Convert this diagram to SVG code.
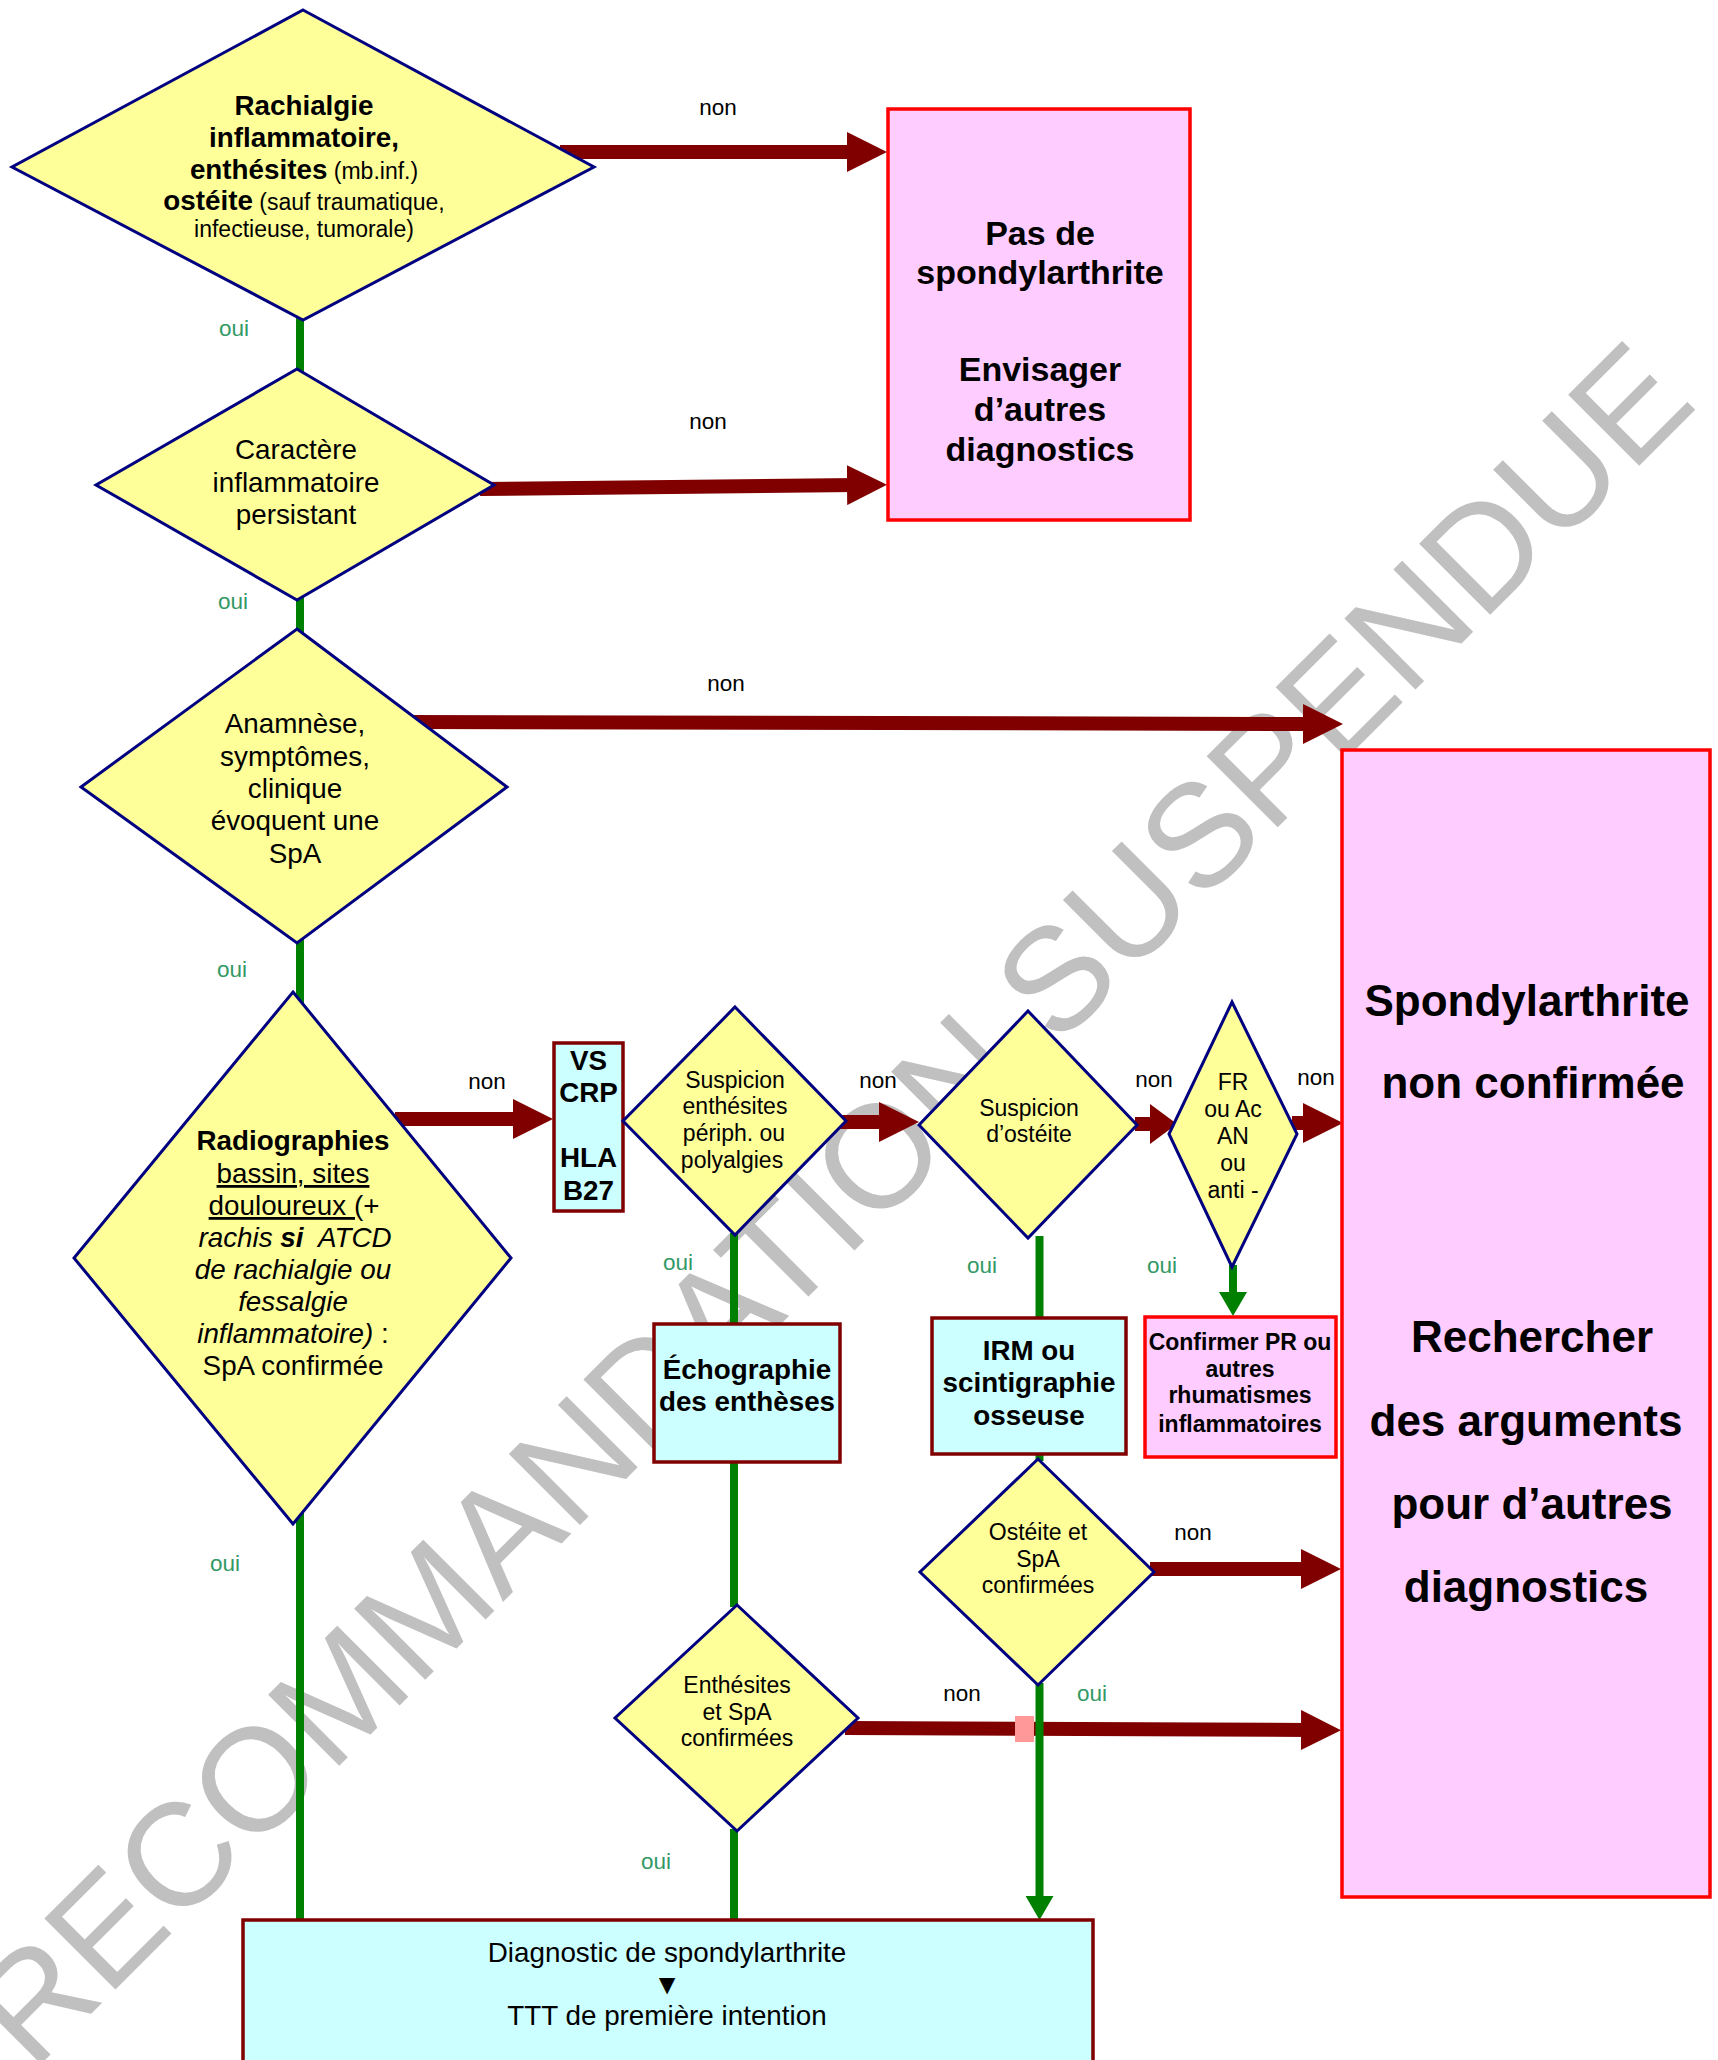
<svg xmlns="http://www.w3.org/2000/svg" width="1718" height="2060" viewBox="0 0 1718 2060">
<style>
  .t { font-family: "Liberation Sans", Arial, sans-serif; fill: #000; text-anchor: middle; }
  .m { font-size: 27.8px; }
  .s { font-size: 23px; }
  .xl { font-size: 34px; font-weight: bold; }
  .xxl { font-size: 44px; font-weight: bold; }
  .b { font-weight: bold; }
  .i { font-style: italic; }
  .u { text-decoration: underline; }
  .lbl { font-family: "Liberation Sans", Arial, sans-serif; font-size: 22.5px; text-anchor: middle; }
  .non { fill: #000; }
  .oui { fill: #339966; }
  .dia { fill: #FFFF99; stroke: #000080; stroke-width: 3; stroke-linejoin: miter; }
  .cyan { fill: #CCFFFF; stroke: #800000; stroke-width: 3.5; }
  .pink { fill: #FFCCFF; stroke: #FF0000; stroke-width: 3.5; }
  .red { fill: none; stroke: #800000; stroke-width: 14; }
  .green { fill: none; stroke: #008000; stroke-width: 8; }
</style>
<defs>
  <marker id="ah" viewBox="0 0 40 40" markerWidth="40" markerHeight="40" markerUnits="userSpaceOnUse" refX="10" refY="20" orient="auto">
    <path d="M0,0 L40,20 L0,40 z" fill="#800000"/>
  </marker>
  <marker id="ahs" viewBox="0 0 27 40" markerWidth="27" markerHeight="40" markerUnits="userSpaceOnUse" refX="7" refY="20" orient="auto">
    <path d="M0,0 L27,20 L0,40 z" fill="#800000"/>
  </marker>
  <marker id="gh" viewBox="0 0 24 28" markerWidth="24" markerHeight="28" markerUnits="userSpaceOnUse" refX="8" refY="14" orient="auto">
    <path d="M0,0 L24,14 L0,28 z" fill="#008000"/>
  </marker>
</defs>

<rect width="1718" height="2060" fill="#FFFFFF"/>

<g id="watermark">
  <text x="866" y="1239" transform="rotate(-45 866 1239)" font-family="Liberation Sans, Arial, sans-serif" font-size="146" fill="#C0C0C0" text-anchor="middle">RECOMMANDATION SUSPENDUE</text>
</g>

<g id="connectors">
  <path class="green" d="M300,318 V1922"/>
  <path class="green" d="M734,1233 V1326"/>
  <path class="green" d="M734,1460 V1607"/>
  <path class="green" d="M734,1829 V1922"/>
  <path class="green" d="M1039.5,1236 V1320"/>
  <path class="green" d="M1039.5,1452 V1461"/>
  <path class="red" d="M560,152 H857" marker-end="url(#ah)"/>
  <path class="red" d="M480,489 L857,485" marker-end="url(#ah)"/>
  <path class="red" d="M412,722 L1313,724" marker-end="url(#ah)"/>
  <path class="red" d="M395,1119 H523" marker-end="url(#ah)"/>
  <path class="red" d="M840,1122 H889" marker-end="url(#ah)"/>
  <path class="red" d="M1135,1124 H1157" marker-end="url(#ahs)"/>
  <path class="red" d="M1292,1123 H1313" marker-end="url(#ah)"/>
  <path class="red" d="M1150,1569 H1311" marker-end="url(#ah)"/>
  <path class="red" d="M845,1728 L1311,1730" marker-end="url(#ah)"/>
  <rect x="1015" y="1716" width="19" height="26" fill="#FF9999"/>
  <path class="green" d="M1039.5,1683 V1904" marker-end="url(#gh)"/>
  <path class="green" d="M1233,1265 V1300" marker-end="url(#gh)"/>

  <text class="lbl non" x="718" y="115">non</text>
  <text class="lbl non" x="708" y="429">non</text>
  <text class="lbl non" x="726" y="691">non</text>
  <text class="lbl non" x="487" y="1089">non</text>
  <text class="lbl non" x="878" y="1088">non</text>
  <text class="lbl non" x="1154" y="1087">non</text>
  <text class="lbl non" x="1316" y="1085">non</text>
  <text class="lbl non" x="1193" y="1540">non</text>
  <text class="lbl non" x="962" y="1701">non</text>
  <text class="lbl oui" x="234" y="336">oui</text>
  <text class="lbl oui" x="233" y="609">oui</text>
  <text class="lbl oui" x="232" y="977">oui</text>
  <text class="lbl oui" x="225" y="1571">oui</text>
  <text class="lbl oui" x="678" y="1270">oui</text>
  <text class="lbl oui" x="982" y="1273">oui</text>
  <text class="lbl oui" x="1162" y="1273">oui</text>
  <text class="lbl oui" x="1092" y="1701">oui</text>
  <text class="lbl oui" x="656" y="1869">oui</text>
</g>

<g id="d1">
  <polygon class="dia" points="303,10 594,167 303,320 12,167"/>
  <text class="t m b" x="304" y="115">Rachialgie</text>
  <text class="t m b" x="304" y="147">inflammatoire,</text>
  <text class="t m" x="304" y="179"><tspan class="b">enthésites</tspan><tspan class="s"> (mb.inf.)</tspan></text>
  <text class="t m" x="304" y="210"><tspan class="b">ostéite</tspan><tspan class="s"> (sauf traumatique,</tspan></text>
  <text class="t s" x="304" y="237">infectieuse, tumorale)</text>
</g>

<g id="d2">
  <polygon class="dia" points="297,369 494,485 297,600 96,485"/>
  <text class="t m" x="296" y="459">Caractère</text>
  <text class="t m" x="296" y="492">inflammatoire</text>
  <text class="t m" x="296" y="524">persistant</text>
</g>

<g id="d3">
  <polygon class="dia" points="297,629 507,787 297,943 81,787"/>
  <text class="t m" x="295" y="733">Anamnèse,</text>
  <text class="t m" x="295" y="766">symptômes,</text>
  <text class="t m" x="295" y="798">clinique</text>
  <text class="t m" x="295" y="830">évoquent une</text>
  <text class="t m" x="295" y="863">SpA</text>
</g>

<g id="d4">
  <polygon class="dia" points="293,992 511,1258 293,1524 74,1258"/>
  <text class="t m b" x="293" y="1150">Radiographies</text>
  <text class="t m" x="293" y="1183"><tspan class="u">bassin, sites</tspan></text>
  <text class="t m" x="294" y="1215"><tspan class="u">douloureux (</tspan>+</text>
  <text class="t m i" x="295" y="1247" xml:space="preserve">rachis <tspan class="b">si</tspan>  ATCD</text>
  <text class="t m i" x="293" y="1279">de rachialgie ou</text>
  <text class="t m i" x="293" y="1311">fessalgie</text>
  <text class="t m" x="293" y="1343"><tspan class="i">inflammatoire)</tspan> :</text>
  <text class="t m" x="293" y="1375">SpA confirmée</text>
</g>

<g id="vs">
  <rect class="cyan" x="554" y="1043" width="69" height="168"/>
  <text class="t m b" x="588.5" y="1070">VS</text>
  <text class="t m b" x="588.5" y="1102">CRP</text>
  <text class="t m b" x="588.5" y="1167">HLA</text>
  <text class="t m b" x="588.5" y="1200">B27</text>
</g>

<g id="d5">
  <polygon class="dia" points="735,1007 846,1121 735,1235 623,1121"/>
  <text class="t s" x="735" y="1088">Suspicion</text>
  <text class="t s" x="735" y="1114">enthésites</text>
  <text class="t s" x="734" y="1141">périph. ou</text>
  <text class="t s" x="732" y="1168">polyalgies</text>
</g>

<g id="d6">
  <polygon class="dia" points="1028,1011 1137,1125 1028,1238 919,1125"/>
  <text class="t s" x="1029" y="1116">Suspicion</text>
  <text class="t s" x="1029" y="1142">d’ostéite</text>
</g>

<g id="d7">
  <polygon class="dia" points="1232,1002 1297,1134 1232,1267 1169,1134"/>
  <text class="t s" x="1233" y="1090">FR</text>
  <text class="t s" x="1233" y="1117">ou Ac</text>
  <text class="t s" x="1233" y="1144">AN</text>
  <text class="t s" x="1233" y="1171">ou</text>
  <text class="t s" x="1233" y="1198">anti -</text>
</g>

<g id="pas-de-spa">
  <rect class="pink" x="888" y="109" width="302" height="411"/>
  <text class="t xl" x="1040" y="245">Pas de</text>
  <text class="t xl" x="1040" y="284">spondylarthrite</text>
  <text class="t xl" x="1040" y="381">Envisager</text>
  <text class="t xl" x="1040" y="421">d’autres</text>
  <text class="t xl" x="1040" y="461">diagnostics</text>
</g>

<g id="spa-non-confirmee">
  <rect class="pink" x="1342" y="750" width="368" height="1147"/>
  <text class="t xxl" x="1527" y="1016">Spondylarthrite</text>
  <text class="t xxl" x="1533" y="1098">non confirmée</text>
  <text class="t xxl" x="1532" y="1352">Rechercher</text>
  <text class="t xxl" x="1526" y="1436">des arguments</text>
  <text class="t xxl" x="1532" y="1519">pour d’autres</text>
  <text class="t xxl" x="1526" y="1602">diagnostics</text>
</g>

<g id="echographie">
  <rect class="cyan" x="654" y="1324" width="186" height="138"/>
  <text class="t m b" x="747" y="1379">Échographie</text>
  <text class="t m b" x="747" y="1411">des enthèses</text>
</g>

<g id="irm">
  <rect class="cyan" x="932" y="1318" width="194" height="136"/>
  <text class="t m b" x="1029" y="1360">IRM ou</text>
  <text class="t m b" x="1029" y="1392">scintigraphie</text>
  <text class="t m b" x="1029" y="1425">osseuse</text>
</g>

<g id="confirmer-pr">
  <rect class="pink" x="1145" y="1317" width="191" height="140"/>
  <text class="t s b" x="1240" y="1350">Confirmer PR ou</text>
  <text class="t s b" x="1240" y="1377">autres</text>
  <text class="t s b" x="1240" y="1403">rhumatismes</text>
  <text class="t s b" x="1240" y="1432">inflammatoires</text>
</g>

<g id="d8">
  <polygon class="dia" points="1038,1459 1154,1572 1038,1685 920,1572"/>
  <text class="t s" x="1038" y="1540">Ostéite et</text>
  <text class="t s" x="1038" y="1567">SpA</text>
  <text class="t s" x="1038" y="1593">confirmées</text>
</g>

<g id="d9">
  <polygon class="dia" points="737,1605 858,1718 737,1831 615,1718"/>
  <text class="t s" x="737" y="1693">Enthésites</text>
  <text class="t s" x="737" y="1720">et SpA</text>
  <text class="t s" x="737" y="1746">confirmées</text>
</g>

<g id="diagnostic">
  <rect class="cyan" x="243" y="1920" width="850" height="170"/>
  <text class="t m" x="667" y="1962">Diagnostic de spondylarthrite</text>
  <text class="t" x="667" y="1994" font-family="DejaVu Sans, sans-serif" font-size="28">▼</text>
  <text class="t m" x="667" y="2025">TTT de première intention</text>
</g>
</svg>
